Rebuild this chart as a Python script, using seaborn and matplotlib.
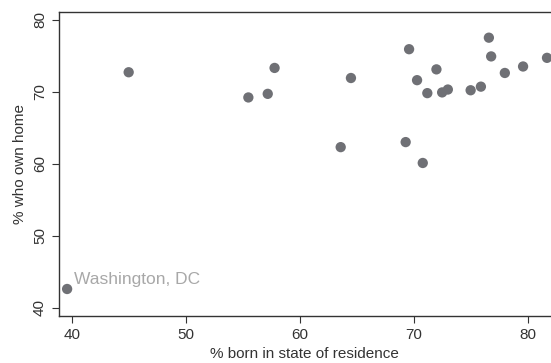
import numpy as np
import matplotlib
matplotlib.use('Agg')
import matplotlib.pyplot as plt
import pandas as pd
import seaborn as sns

# % born in state of residence vs % who own home
born_in_state = [39.6, 45.0, 55.5, 57.2, 57.8, 63.6, 64.5, 69.3, 69.6, 70.3,
                 70.8, 71.2, 72.0, 72.5, 73.0, 75.0, 75.9, 76.6, 76.8, 78.0,
                 79.6, 81.7]
own_home = [42.6, 72.7, 69.2, 69.7, 73.3, 62.3, 71.9, 63.0, 75.9, 71.6,
            60.1, 69.8, 73.1, 69.9, 70.3, 70.2, 70.7, 77.5, 74.9, 72.6,
            73.5, 74.7]
label_text = "Washington, DC"

df = pd.DataFrame({'born': born_in_state, 'own': own_home})

sns.set_style('white')
plt.rcParams['font.family'] = ['Liberation Sans', 'DejaVu Sans']

fig = plt.figure(figsize=(5.51, 3.63), dpi=100)
ax = fig.add_axes([0.1065, 0.1295, 0.8935, 0.8375])
sns.scatterplot(data=df, x='born', y='own', ax=ax, s=55, color='#6f7075',
                edgecolor='none', linewidth=0, clip_on=True)

ax.text(df['born'][0] + 0.6, df['own'][0] + 0.75, label_text, color='#a8a8a8',
        fontsize=12.5, ha='left', va='baseline')

ax.set_xlim(38.86, 82.05)
ax.set_ylim(38.85, 81.07)
ax.set_xticks([40, 50, 60, 70, 80])
ax.set_yticks([40, 50, 60, 70, 80])
ax.tick_params(axis='both', direction='out', length=5, width=0.8,
               colors='#333333', labelsize=11, labelcolor='#333333',
               left=True, bottom=True)
for lab in ax.get_yticklabels():
    lab.set_rotation(90)
    lab.set_va('center')
ax.set_xlabel('% born in state of residence', fontsize=11, color='#333333')
ax.set_ylabel('% who own home', fontsize=11, color='#333333')
for side in ['left', 'bottom', 'top']:
    ax.spines[side].set_color('#333333')
    ax.spines[side].set_linewidth(1.0)
ax.spines['right'].set_visible(False)

fig.savefig('out.png', dpi=100)
